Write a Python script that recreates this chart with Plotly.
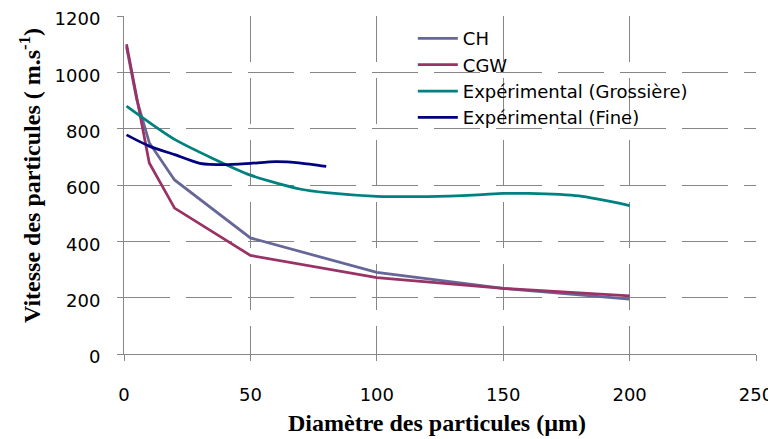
import plotly.graph_objects as go

# Data
ch_x = [1, 5, 10, 20, 50, 100, 150, 200]
ch_y = [1090, 905, 750, 618, 412, 290, 233, 195]

cgw_x = [1, 10, 20, 50, 100, 150, 200]
cgw_y = [1100, 678, 518, 350, 271, 233, 206]

gros_x = [1, 20, 50, 70, 80, 100, 120, 140, 150, 160, 180, 200]
gros_y = [880, 762, 635, 585, 573, 560, 559, 565, 570, 570, 561, 527]

fine_x = [1, 10, 20, 30, 40, 50, 60, 70, 80]
fine_y = [778, 738, 708, 677, 672, 677, 683, 678, 666]

x_ticks = [0, 50, 100, 150, 200, 250]
y_ticks = [0, 200, 400, 600, 800, 1000, 1200]

names = ["CH", "CGW", "Expérimental (Grossière)", "Expérimental (Fine)"]
colors = ["#666699", "#993366", "#008080", "#000080"]

fig = go.Figure()
fig.add_trace(go.Scatter(x=ch_x, y=ch_y, mode="lines", name=names[0],
                         line=dict(color=colors[0], width=2.75)))
fig.add_trace(go.Scatter(x=cgw_x, y=cgw_y, mode="lines", name=names[1],
                         line=dict(color=colors[1], width=2.75)))
fig.add_trace(go.Scatter(x=gros_x, y=gros_y, mode="lines", name=names[2],
                         line=dict(color=colors[2], width=2.75, shape="spline", smoothing=0.6)))
fig.add_trace(go.Scatter(x=fine_x, y=fine_y, mode="lines", name=names[3],
                         line=dict(color=colors[3], width=2.75, shape="spline", smoothing=0.6)))

# page body has an 8px margin; figure sized to fill the rest of the window
off = 8
W, H = 776 - off, 439 - off
L, T, R, B = 124 - off, 16 - off, 20, 439 - 354
pw, ph = W - L - R, H - T - B

grid_col = "#878787"
title_font = dict(family="Liberation Serif", size=24, weight="bold", color="black")
fig.update_layout(
    width=W, height=H, autosize=False,
    margin=dict(l=L, r=R, t=T, b=B, pad=0),
    paper_bgcolor="white", plot_bgcolor="white",
    font=dict(family="DejaVu Sans", size=18, color="black"),
    showlegend=True,
    legend=dict(x=0.457, y=0.988, xanchor="left", yanchor="top",
                bgcolor="rgba(255,255,255,0)", font=dict(family="DejaVu Sans", size=18),
                tracegroupgap=0, itemwidth=40),
    xaxis=dict(range=[0, 250], tickvals=x_ticks, automargin=False,
               showgrid=True, gridcolor=grid_col, gridwidth=1, griddash="46px,16px",
               showline=True, linecolor=grid_col, linewidth=1,
               ticks="outside", ticklen=6, tickcolor=grid_col,
               zeroline=False, ticklabelstandoff=18, ticklabeloverflow="allow"),
    yaxis=dict(range=[0, 1200], tickvals=y_ticks, automargin=False,
               showgrid=True, gridcolor=grid_col, gridwidth=1, griddash="46px,16px",
               showline=True, linecolor=grid_col, linewidth=1,
               ticks="outside", ticklen=6, tickcolor=grid_col,
               zeroline=False, ticklabelstandoff=13, ticklabelshift=3,
               ticklabeloverflow="allow"),
    annotations=[
        dict(text="Diamètre des particules (µm)", xref="paper", yref="paper",
             x=(437 - 124) / pw, y=-(423 - 354) / ph, xanchor="center", yanchor="middle",
             showarrow=False, font=title_font),
        dict(text="Vitesse des particules ( m.s<sup>-1</sup>)", xref="paper", yref="paper",
             x=-(124 - 30) / pw, y=(354 - 176) / ph, xanchor="center", yanchor="middle",
             textangle=-90, showarrow=False, font=title_font),
    ],
)

fig.write_html("out.html")
